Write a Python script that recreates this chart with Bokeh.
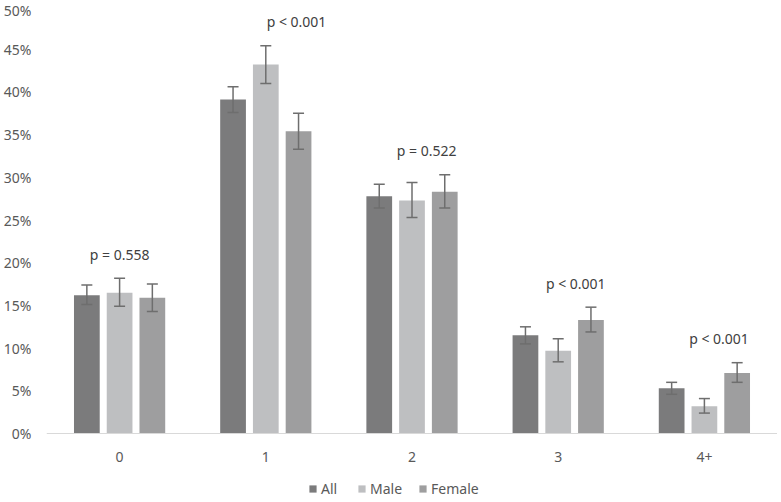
from bokeh.plotting import figure
from bokeh.models import FactorRange, ColumnDataSource, Whisker, Legend, LegendItem, TeeHead, FixedTicker
from bokeh.transform import dodge
from bokeh.core.properties import value
from bokeh.embed import file_html
from bokeh.resources import INLINE

categories = ["0", "1", "2", "3", "4+"]
all_vals = [16.2, 39.1, 27.8, 11.5, 5.3]
all_lo = [15.1, 37.6, 26.4, 10.5, 4.6]
all_hi = [17.4, 40.6, 29.2, 12.5, 6.0]
male_vals = [16.5, 43.2, 27.3, 9.7, 3.2]
male_lo = [14.9, 41.0, 25.3, 8.4, 2.4]
male_hi = [18.2, 45.4, 29.4, 11.1, 4.1]
female_vals = [15.9, 35.4, 28.3, 13.3, 7.1]
female_lo = [14.3, 33.3, 26.4, 11.9, 6.0]
female_hi = [17.5, 37.5, 30.3, 14.8, 8.3]
p_labels = ["p = 0.558", "p < 0.001", "p = 0.522", "p < 0.001", "p < 0.001"]
y_tick_values = [0, 5, 10, 15, 20, 25, 30, 35, 40, 45, 50]
y_tick_labels = ["0%", "5%", "10%", "15%", "20%", "25%", "30%", "35%", "40%", "45%", "50%"]
series_names = ["All", "Male", "Female"]

# styling / layout (not data)
colors = ["#7b7b7c", "#bebfc1", "#9e9e9f"]
offsets = [-0.224, 0.0, 0.224]
bar_w = 0.176
label_dx = [0.0, 0.21, 0.1, 0.12, 0.1]
label_gap = 2.8
y_bottom_pad = -7.6   # room below 0% for the category labels and legend
FONT = "Noto Sans"
FS = "14px"

p = figure(x_range=FactorRange(*categories, range_padding=0), y_range=(y_bottom_pad, 50),
           width=777, height=498, output_backend="svg", toolbar_location=None,
           min_border_top=6, min_border_right=0, min_border_left=0, min_border_bottom=0)

src = ColumnDataSource(dict(
    cat=categories,
    all=all_vals, all_lo=all_lo, all_hi=all_hi,
    male=male_vals, male_lo=male_lo, male_hi=male_hi,
    female=female_vals, female_lo=female_lo, female_hi=female_hi,
))

keys = ["all", "male", "female"]
renderers = []
for k, c, off in zip(keys, colors, offsets):
    r = p.vbar(x=dodge("cat", off, range=p.x_range), top=k, bottom=0, width=bar_w, source=src,
               fill_color=c, line_color=None)
    renderers.append(r)
    w = Whisker(source=src, base=dodge("cat", off, range=p.x_range), upper=k + "_hi", lower=k + "_lo",
                line_color="#6e6e6e", line_width=1.5, level="overlay",
                upper_head=TeeHead(size=11, line_color="#6e6e6e", line_width=1.5),
                lower_head=TeeHead(size=11, line_color="#6e6e6e", line_width=1.5))
    p.add_layout(w)

# p-value labels
label_x = [i + 0.5 + dx for i, dx in enumerate(label_dx)]
label_y = [max(a, b, c) + label_gap for a, b, c in zip(all_hi, male_hi, female_hi)]
p.text(x=label_x, y=label_y, text=p_labels, text_align="center", text_baseline="middle",
       text_font=value(FONT), text_font_size=FS, text_color="#404040")

# axes
p.xgrid.grid_line_color = None
p.ygrid.grid_line_color = None
p.outline_line_color = None

p.yaxis.ticker = FixedTicker(ticks=y_tick_values)
p.yaxis.major_label_overrides = {v: l for v, l in zip(y_tick_values, y_tick_labels)}
p.yaxis.axis_line_color = None
p.yaxis.major_tick_line_color = None
p.yaxis.minor_tick_line_color = None
p.yaxis.major_label_standoff = 9
p.yaxis.major_label_text_font = FONT
p.yaxis.major_label_text_font_size = FS
p.yaxis.major_label_text_color = "#595959"

p.xaxis.fixed_location = 0
p.xaxis.axis_line_color = "#d9d9d9"
p.xaxis.axis_line_width = 1
p.xaxis.major_tick_line_color = None
p.xaxis.minor_tick_line_color = None
p.xaxis.major_label_standoff = 12
p.xaxis.major_label_text_font = FONT
p.xaxis.major_label_text_font_size = FS
p.xaxis.major_label_text_color = "#595959"

legend = Legend(items=[LegendItem(label=n, renderers=[r]) for n, r in zip(series_names, renderers)],
                orientation="horizontal", location=(262, 0),
                glyph_width=9, glyph_height=9, label_standoff=4, spacing=16,
                label_text_font=FONT, label_text_font_size=FS, label_text_color="#595959",
                border_line_color=None, background_fill_alpha=0, padding=0, margin=0,
                label_height=14)
p.add_layout(legend, "center")

open("out.html", "w").write(file_html(p, INLINE))
